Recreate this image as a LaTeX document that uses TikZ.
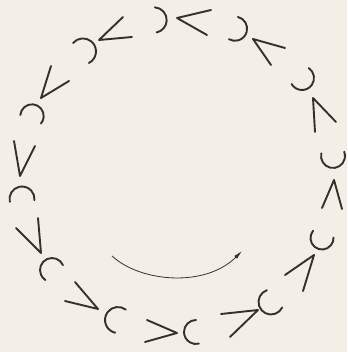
\documentclass[tikz,border=0pt]{standalone}
\usetikzlibrary{arrows.meta}
\definecolor{paper}{RGB}{243,239,230}
\definecolor{ink}{RGB}{52,48,45}
\begin{document}
\begin{tikzpicture}[x=1pt,y=-1pt,
  glyph/.style={draw=ink,line width=1.9pt,line cap=round,line join=round},
  turnarrow/.style={draw=ink,line width=0.8pt,-{Latex[length=9pt,width=4pt]}}]
\fill[paper] (0,0) rectangle (347,352);
\useasboundingbox (0,0) rectangle (347,352);
% unit 1 (top)
\draw[glyph] (154,20) ++(-86:12.7) arc[start angle=-86,end angle=78,radius=12.7];
\draw[glyph] (211,10) -- (177,18) -- (207,35);
% unit 2
\draw[glyph] (83,51.4) ++(-140:13) arc[start angle=-140,end angle=63,radius=13];
\draw[glyph] (123,17) -- (99,40) -- (132,37);
% unit 3
\draw[glyph] (235,28.7) ++(-76:12.1) arc[start angle=-76,end angle=120,radius=12.1];
\draw[glyph] (285,48) -- (253,39) -- (271,65);
% unit 4
\draw[glyph] (302,78) ++(-55:12) arc[start angle=-55,end angle=150,radius=12];
\draw[glyph] (336,122) -- (313,98) -- (315,132);
% unit 5
\draw[glyph] (333,156) ++(193:12) arc[start angle=193,end angle=-21,radius=12];
\draw[glyph] (322,208) -- (334,180) -- (342,209);
% unit 6
\draw[glyph] (322,238) ++(219:11.5) arc[start angle=219,end angle=-2,radius=11.5];
\draw[glyph] (285,275) -- (314,255) -- (303,291);
% unit 7
\draw[glyph] (271,302) ++(251:12.5) arc[start angle=251,end angle=26,radius=12.5];
\draw[glyph] (221,314) -- (258,310) -- (230,337);
% unit 8 (bottom)
\draw[glyph] (196,332) ++(270:12) arc[start angle=270,end angle=76,radius=12];
\draw[glyph] (147,320) -- (177,333) -- (145,342);
% unit 9
\draw[glyph] (118,320) ++(307:13) arc[start angle=307,end angle=102,radius=13];
\draw[glyph] (75,282) -- (98,309) -- (65,301);
% unit 10
\draw[glyph] (52,270) ++(336:12) arc[start angle=336,end angle=123,radius=12];
\draw[glyph] (38,218) -- (41,253) -- (16,228);
% unit 11 (left)
\draw[glyph] (22,199) ++(167:12.5) arc[start angle=167,end angle=365,radius=12.5];
\draw[glyph] (14,141) -- (20,176) -- (35,146);
% unit 12
\draw[glyph] (32,116) ++(185:11.7) arc[start angle=185,end angle=400,radius=11.7];
\draw[glyph] (51,66) -- (41,98) -- (69,81);
% rotation arrow
\coordinate (arrowstart) at (112,256);
\coordinate (arrowend) at (242,251);
\draw[turnarrow] (arrowstart) .. controls (140,282) and (205,288) .. (arrowend);
\end{tikzpicture}
\end{document}
